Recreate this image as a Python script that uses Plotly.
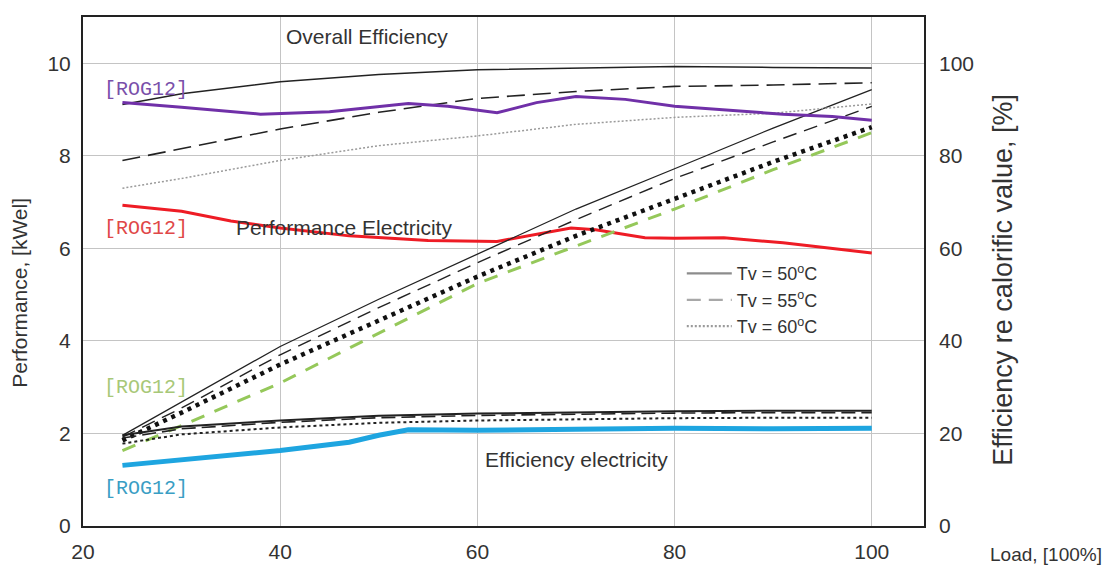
import plotly.graph_objects as go

# ---------------- data ----------------
load = [24, 30, 40, 50, 60, 70, 80, 90, 100]

# overall efficiency, [%] (right axis)
overall_50 = [91.1, 93.4, 96.0, 97.6, 98.6, 99.0, 99.3, 99.1, 99.0]
overall_55 = [79.0, 81.5, 85.8, 89.4, 92.4, 93.9, 95.0, 95.3, 95.8]
overall_60 = [73.0, 75.1, 79.0, 82.2, 84.3, 86.8, 88.3, 89.2, 91.2]

# performance electricity, [kWel] (left axis)
perf_50 = [1.96, 2.68, 3.88, 4.90, 5.87, 6.85, 7.72, 8.60, 9.43]
perf_55 = [1.92, 2.55, 3.70, 4.72, 5.69, 6.62, 7.51, 8.30, 9.07]
perf_60 = [1.85, 2.45, 3.49, 4.45, 5.39, 6.27, 7.08, 7.87, 8.62]
perf_rog = [1.63, 2.17, 3.09, 4.17, 5.24, 6.05, 6.85, 7.70, 8.50]

# efficiency electricity, [%] (right axis)
eff_50 = [19.6, 21.5, 22.8, 23.8, 24.3, 24.6, 24.8, 24.9, 24.9]
eff_55 = [19.0, 21.0, 22.4, 23.4, 23.9, 24.2, 24.4, 24.5, 24.5]
eff_60 = [17.8, 19.8, 21.3, 22.3, 22.8, 23.1, 23.3, 23.4, 23.4]

# ROG12 measurements
rog_overall_x = [24, 30, 38, 45, 53, 57, 62, 66, 70, 75, 80, 85, 91, 96, 100]
rog_overall = [91.5, 90.5, 89.0, 89.5, 91.3, 90.7, 89.3, 91.5, 92.8, 92.2, 90.7, 90.0, 89.0, 88.5, 87.7]

rog_red_x = [24, 30, 35, 40, 47, 55, 62, 66, 69.5, 72, 77, 80, 85, 91, 100]
rog_red = [6.93, 6.80, 6.59, 6.44, 6.27, 6.17, 6.15, 6.30, 6.44, 6.40, 6.23, 6.22, 6.23, 6.12, 5.90]

rog_eff_x = [24, 30, 40, 47, 50, 53, 60, 70, 80, 90, 100]
rog_eff = [13.1, 14.2, 16.3, 18.1, 19.6, 20.8, 20.7, 20.9, 21.1, 21.0, 21.1]

legend_names = ["Tv = 50<sup>o</sup>C", "Tv = 55<sup>o</sup>C", "Tv = 60<sup>o</sup>C"]

# ---------------- figure ----------------
fig = go.Figure()

def line(x, y, color, width, dash="solid", axis="y"):
    fig.add_trace(go.Scatter(x=x, y=y, mode="lines", yaxis=axis, showlegend=False,
                             line=dict(color=color, width=width, dash=dash),
                             hoverinfo="skip"))

# overall efficiency
line(load, overall_60, "#9a9a9a", 1.5, "2px,2px", "y2")
line(load, overall_55, "#222222", 1.6, "18px,8px", "y2")
line(load, overall_50, "#222222", 1.5, "solid", "y2")
line(rog_overall_x, rog_overall, "#7030a8", 3, "solid", "y2")

# performance electricity
line(rog_red_x, rog_red, "#ee1c25", 3)
line(load, perf_rog, "#95c85a", 3, "14px,11px")
line(load, perf_60, "#111111", 4.5, "4px,5px")
line(load, perf_55, "#222222", 1.4, "14px,8px")
line(load, perf_50, "#222222", 1.3)

# efficiency electricity
line(rog_eff_x, rog_eff, "#1ea5e0", 5, "solid", "y2")
line(load, eff_60, "#222222", 2, "3px,3px", "y2")
line(load, eff_55, "#222222", 1.6, "14px,6px", "y2")
line(load, eff_50, "#222222", 2, "solid", "y2")

# legend entries
for name, dash, col in zip(legend_names, ["solid", "14px,8px", "2px,2px"],
                           ["#8c8c8c", "#a8a8a8", "#9a9a9a"]):
    fig.add_trace(go.Scatter(x=[None], y=[None], mode="lines", name=name,
                             line=dict(color=col, width=2.2, dash=dash)))

txt = "#333333"
notes = [
    ("Overall Efficiency", 48.8, 10.57, txt, 21, "Liberation Sans, Arial"),
    ("Performance Electricity", 46.5, 6.46, txt, 21, "Liberation Sans, Arial"),
    ("Efficiency electricity", 70.1, 1.44, txt, 21, "Liberation Sans, Arial"),
    ("[ROG12]", 26.4, 9.43, "#7a50aa", 20, "Liberation Mono, Courier New"),
    ("[ROG12]", 26.4, 6.44, "#e04848", 20, "Liberation Mono, Courier New"),
    ("[ROG12]", 26.4, 3.00, "#a8c878", 20, "Liberation Mono, Courier New"),
    ("[ROG12]", 26.4, 0.82, "#3a9ec4", 20, "Liberation Mono, Courier New"),
]
for t, x, y, c, s, f in notes:
    fig.add_annotation(x=x, y=y, xref="x", yref="y", text=t, showarrow=False,
                       xanchor="center", yanchor="middle",
                       font=dict(color=c, size=s, family=f))

fig.add_annotation(x=-0.075, y=0.458, xref="paper", yref="paper", text="Performance, [kWel]",
                   textangle=-90, showarrow=False, xanchor="center", yanchor="middle",
                   font=dict(size=21, color=txt))
fig.add_annotation(x=1.094, y=0.484, xref="paper", yref="paper",
                   text="Efficiency re calorific value, [%]",
                   textangle=-90, showarrow=False, xanchor="center", yanchor="middle",
                   font=dict(size=27, color=txt))
fig.add_annotation(x=1.145, y=-0.056, xref="paper", yref="paper", text="Load, [100%]",
                   showarrow=False, xanchor="center", yanchor="middle",
                   font=dict(size=19, color=txt))

# the page body has an 8px margin, so the figure is a little smaller than the window
fig.update_layout(
    width=1105, height=562,
    margin=dict(l=75, r=189, t=7, b=38),
    plot_bgcolor="white", paper_bgcolor="white",
    font=dict(family="Liberation Sans, Arial", size=21, color=txt),
    xaxis=dict(range=[20, 105.3], tickvals=[20, 40, 60, 80, 100], showgrid=True,
               gridcolor="#c4c4c4", gridwidth=1, zeroline=False, showline=True,
               linecolor="#222222", linewidth=2, mirror=True, ticks="",
               ticklabelstandoff=6),
    yaxis=dict(range=[0, 11], tickvals=[0, 2, 4, 6, 8, 10], showgrid=True,
               gridcolor="#c4c4c4", gridwidth=1, zeroline=False, showline=True,
               linecolor="#222222", linewidth=2, mirror=True, ticks="",
               ticklabelstandoff=6),
    yaxis2=dict(range=[0, 110], tickvals=[0, 20, 40, 60, 80, 100], overlaying="y",
                side="right", showgrid=False, zeroline=False, showline=False,
                ticks="", ticklabelstandoff=14),
    legend=dict(x=0.712, y=0.532, xanchor="left", yanchor="top",
                bgcolor="rgba(0,0,0,0)", font=dict(size=18, color=txt),
                itemwidth=45, tracegroupgap=0),
)

fig.write_html("out.html")
